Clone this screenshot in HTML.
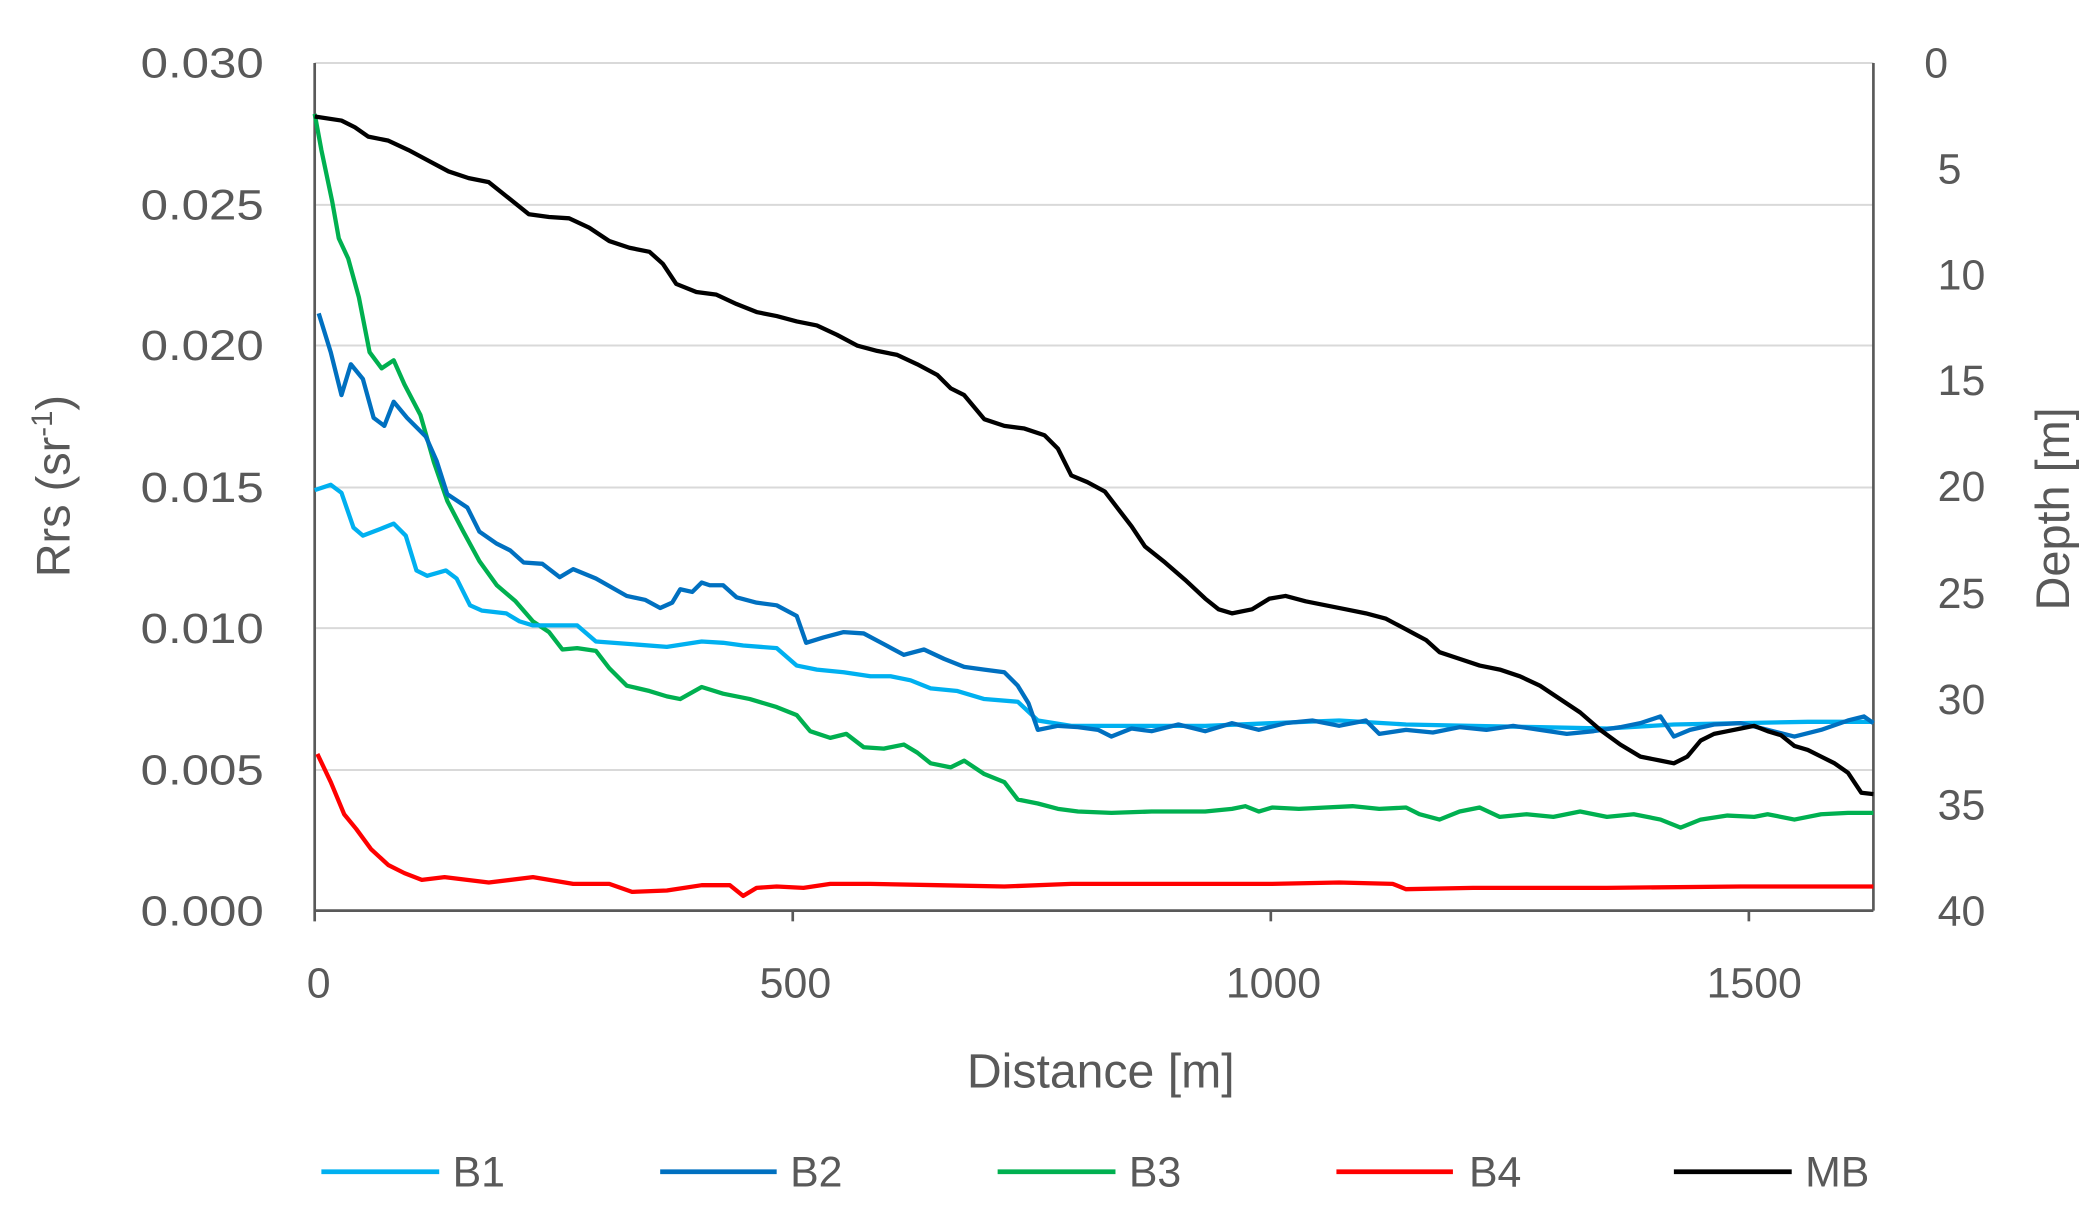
<!DOCTYPE html>
<html><head><meta charset="utf-8"><style>
html,body{margin:0;padding:0;background:#fff;}
svg{display:block;}
text{font-family:"Liberation Sans",sans-serif;fill:#595959;}
</style></head><body>
<svg width="2089" height="1220" viewBox="0 0 1560 911" xmlns="http://www.w3.org/2000/svg">
<g stroke="#d9d9d9" stroke-width="1.5">
<line x1="235" y1="47" x2="1399" y2="47"/>
<line x1="235" y1="153" x2="1399" y2="153"/>
<line x1="235" y1="258" x2="1399" y2="258"/>
<line x1="235" y1="364" x2="1399" y2="364"/>
<line x1="235" y1="469" x2="1399" y2="469"/>
<line x1="235" y1="575" x2="1399" y2="575"/>
</g>
<g stroke="#595959" stroke-width="2" fill="none">
<line x1="235" y1="47" x2="235" y2="688"/>
<line x1="235" y1="680" x2="1399" y2="680"/>
<line x1="1399" y1="47" x2="1399" y2="680"/>
<line x1="592" y1="680" x2="592" y2="688"/>
<line x1="949" y1="680" x2="949" y2="688"/>
<line x1="1306" y1="680" x2="1306" y2="688"/>
</g>
<g font-size="32" text-anchor="end" textLength="92">
<text x="197" y="58" textLength="92" lengthAdjust="spacingAndGlyphs">0.030</text>
<text x="197" y="164" textLength="92" lengthAdjust="spacingAndGlyphs">0.025</text>
<text x="197" y="269" textLength="92" lengthAdjust="spacingAndGlyphs">0.020</text>
<text x="197" y="375" textLength="92" lengthAdjust="spacingAndGlyphs">0.015</text>
<text x="197" y="480" textLength="92" lengthAdjust="spacingAndGlyphs">0.010</text>
<text x="197" y="586" textLength="92" lengthAdjust="spacingAndGlyphs">0.005</text>
<text x="197" y="691" textLength="92" lengthAdjust="spacingAndGlyphs">0.000</text>
</g>
<g font-size="32" text-anchor="start">
<text x="1437" y="58">0</text>
<text x="1447" y="137">5</text>
<text x="1447" y="216">10</text>
<text x="1447" y="295">15</text>
<text x="1447" y="374">20</text>
<text x="1447" y="454">25</text>
<text x="1447" y="533">30</text>
<text x="1447" y="612">35</text>
<text x="1447" y="691">40</text>
</g>
<g font-size="32" text-anchor="middle">
<text x="238" y="745">0</text>
<text x="594" y="745">500</text>
<text x="951" y="745">1000</text>
<text x="1310" y="745">1500</text>
<text x="822" y="812" font-size="36">Distance [m]</text>
</g>
<text transform="translate(52,363) rotate(-90)" font-size="35" text-anchor="middle">Rrs (sr<tspan font-size="22" dy="-13">-1</tspan><tspan dy="13">)</tspan></text>
<text transform="translate(1545,380) rotate(-90)" font-size="35" text-anchor="middle">Depth [m]</text>
<g fill="none" stroke-width="3.2" stroke-linejoin="round">
<polyline stroke="#ff0000" points="237,563 247,584 257,608 266,619 277,634 290,646 302,652 315,657 332,655 365,659 398,655 428,660 455,660 472,666 498,665 524,661 545,661 555,669 565,663 580,662 600,663 620,660 650,660 700,661 750,662 800,660 900,660 950,660 1000,659 1040,660 1050,664 1100,663 1200,663 1300,662 1399,662"/>
<polyline stroke="#00b050" points="235,85 240,112 248,150 253,178 260,193 268,222 276,263 285,275 294,269 302,287 314,310 324,345 334,374 346,397 358,419 371,437 385,449 398,464 410,472 420,485 431,484 445,486 455,499 468,512 485,516 498,520 508,522 524,513 540,518 560,522 580,528 595,534 605,546 620,551 632,548 645,558 660,559 675,556 685,562 695,570 710,573 720,568 735,578 750,584 760,597 775,600 790,604 805,606 830,607 860,606 880,606 900,606 920,604 930,602 940,606 950,603 970,604 990,603 1010,602 1030,604 1050,603 1060,608 1075,612 1090,606 1105,603 1120,610 1140,608 1160,610 1180,606 1200,610 1220,608 1240,612 1255,618 1270,612 1290,609 1310,610 1320,608 1340,612 1360,608 1380,607 1399,607"/>
<polyline stroke="#00b0f0" points="235,366 247,362 255,368 264,394 271,400 284,395 294,391 303,400 311,426 319,430 333,426 341,432 351,452 360,456 378,458 388,464 398,467 431,467 445,479 498,483 524,479 540,480 555,482 580,484 595,497 610,500 630,502 650,505 665,505 680,508 695,514 715,516 735,522 760,524 775,538 800,542 850,542 900,542 950,540 1000,538 1050,541 1100,542 1150,543 1200,544 1250,541 1300,540 1350,539 1399,539"/>
<polyline stroke="#0070c0" points="238,234 247,263 255,295 262,272 271,283 279,312 287,318 294,300 304,312 318,326 326,344 334,369 349,379 358,397 371,406 381,411 391,420 405,421 418,431 428,425 445,432 468,445 482,448 493,454 502,450 508,440 517,442 524,435 530,437 540,437 550,446 565,450 580,452 595,460 602,480 615,476 630,472 645,473 660,481 675,489 690,485 705,492 720,498 735,500 750,502 760,512 768,525 775,545 790,542 805,543 820,545 830,550 845,544 860,546 880,541 900,546 920,540 940,545 960,540 980,538 1000,542 1020,538 1030,548 1050,545 1070,547 1090,543 1110,545 1130,542 1150,545 1170,548 1190,546 1210,543 1225,540 1240,535 1250,550 1262,545 1280,541 1300,540 1320,545 1340,550 1360,545 1380,538 1392,535 1399,540"/>
<polyline stroke="#000000" points="235,87 255,90 265,95 275,102 290,105 305,112 320,120 335,128 350,133 365,136 380,148 395,160 410,162 425,163 440,170 455,180 470,185 485,188 495,197 505,212 520,218 535,220 550,227 565,233 580,236 595,240 610,243 625,250 640,258 655,262 670,265 685,272 700,280 710,290 720,295 735,313 750,318 765,320 780,325 790,335 800,355 812,360 825,367 835,380 845,393 855,408 870,420 885,433 900,447 910,455 920,458 935,455 948,447 960,445 975,449 990,452 1005,455 1020,458 1035,462 1050,470 1065,478 1075,487 1090,492 1105,497 1120,500 1135,505 1150,512 1165,522 1180,532 1195,545 1210,556 1225,565 1240,568 1250,570 1260,565 1270,553 1280,548 1290,546 1300,544 1310,542 1320,546 1330,549 1340,557 1350,560 1360,565 1370,570 1380,577 1390,592 1399,593"/>
</g>
<g stroke-width="3.5">
<line x1="240" y1="875" x2="328" y2="875" stroke="#00b0f0"/>
<line x1="493" y1="875" x2="580" y2="875" stroke="#0070c0"/>
<line x1="745" y1="875" x2="833" y2="875" stroke="#00b050"/>
<line x1="998" y1="875" x2="1085" y2="875" stroke="#ff0000"/>
<line x1="1250" y1="875" x2="1338" y2="875" stroke="#000000"/>
</g>
<g font-size="32">
<text x="338" y="886">B1</text>
<text x="590" y="886">B2</text>
<text x="843" y="886">B3</text>
<text x="1097" y="886">B4</text>
<text x="1348" y="886">MB</text>
</g>
</svg>
</body></html>
